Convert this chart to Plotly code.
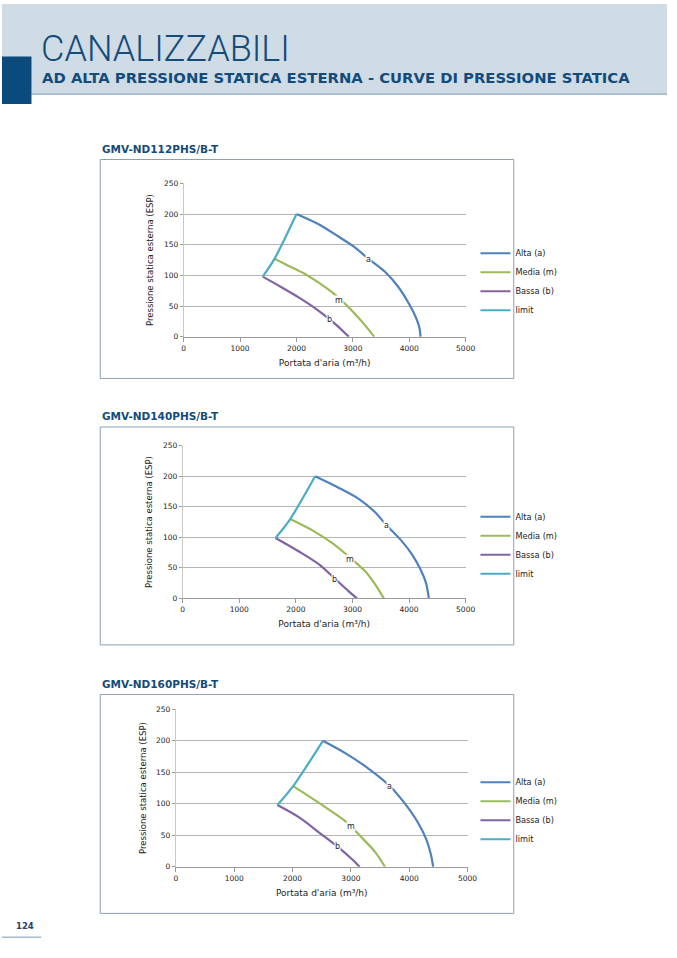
import plotly.graph_objects as go

W, H = 677, 958

# GMV-ND112PHS/B-T
alta1_x = [2000, 2400, 2750, 3000, 3280, 3570, 3800, 4000, 4120, 4180, 4200]
alta1_y = [200, 183, 163, 148, 127, 106, 82, 53, 31, 15, 0]
media1_x = [1610, 1830, 2120, 2400, 2640, 2870, 3100, 3250, 3380]
media1_y = [127, 117, 104, 88, 72, 53, 31, 15, 0]
bassa1_x = [1400, 1710, 2060, 2400, 2700, 2930]
bassa1_y = [98, 82, 63, 42, 20, 0]
limit1_x = [1400, 1610, 2000]
limit1_y = [98, 127, 200]
lab1_x = [3280, 2760, 2580]
lab1_y = [126, 59, 29]

# GMV-ND140PHS/B-T
alta2_x = [2340, 2760, 3110, 3400, 3600, 3860, 4060, 4210, 4300, 4350]
alta2_y = [200, 181, 163, 141, 120, 95, 71, 46, 25, 0]
media2_x = [1900, 2300, 2650, 2940, 3230, 3430, 3555]
media2_y = [130, 111, 90, 68, 44, 19, 0]
bassa2_x = [1640, 2070, 2420, 2680, 2940, 3080]
bassa2_y = [99, 76, 55, 33, 11, 0]
limit2_x = [1640, 1900, 2340]
limit2_y = [99, 130, 200]
lab2_x = [3600, 2965, 2676]
lab2_y = [120, 64, 31]

# GMV-ND160PHS/B-T
alta3_x = [2520, 2910, 3300, 3670, 3920, 4150, 4290, 4370, 4410]
alta3_y = [200, 180, 156, 128, 101, 70, 44, 20, 0]
media3_x = [2010, 2460, 2910, 3190, 3420, 3585]
media3_y = [128, 101, 72, 46, 23, 0]
bassa3_x = [1740, 2120, 2460, 2770, 3020, 3150]
bassa3_y = [98, 78, 54, 32, 12, 0]
limit3_x = [1740, 2010, 2520]
limit3_y = [98, 128, 200]
lab3_x = [3668, 2994, 2770]
lab3_y = [128, 64, 32]

models = ["GMV-ND112PHS/B-T", "GMV-ND140PHS/B-T", "GMV-ND160PHS/B-T"]
series_names = ["Alta (a)", "Media (m)", "Bassa (b)", "limit"]
label_texts = ["a", "m", "b"]
x_ticks = [0, 1000, 2000, 3000, 4000, 5000]
y_ticks = [0, 50, 100, 150, 200, 250]

colors = ["#4f81bd", "#9bbb59", "#8064a2", "#4bacc6"]
FONT = "DejaVu Sans"
NAVY = "#134b7a"
HEADER_BG = "#cfdce6"

charts = [
    dict(series=[(alta1_x, alta1_y), (media1_x, media1_y), (bassa1_x, bassa1_y), (limit1_x, limit1_y)],
         labels=(lab1_x, lab1_y), px=(185, 472), py=(181, 336), box=(100, 157, 521, 378), leg=246),
    dict(series=[(alta2_x, alta2_y), (media2_x, media2_y), (bassa2_x, bassa2_y), (limit2_x, limit2_y)],
         labels=(lab2_x, lab2_y), px=(184, 472), py=(446, 600), box=(100, 427, 521, 647), leg=512),
    dict(series=[(alta3_x, alta3_y), (media3_x, media3_y), (bassa3_x, bassa3_y), (limit3_x, limit3_y)],
         labels=(lab3_x, lab3_y), px=(177, 474), py=(712, 871), box=(100, 697, 521, 918), leg=780),
]


def fx(p):
    return p / W


def fy(p):
    return 1 - p / H


fig = go.Figure()
layout = {}
shapes = []
annotations = []

# header
shapes.append(dict(type="rect", xref="paper", yref="paper", x0=0, x1=1, y0=fy(91), y1=1,
                   fillcolor=HEADER_BG, line_width=0, layer="below"))
shapes.append(dict(type="line", xref="paper", yref="paper", x0=fx(30), x1=1, y0=fy(91), y1=fy(91),
                   line=dict(color="#7b98b0", width=1)))
shapes.append(dict(type="rect", xref="paper", yref="paper", x0=0, x1=fx(30), y0=fy(101), y1=fy(53),
                   fillcolor="#0b4a7d", line_width=0))
annotations.append(dict(text="CANALIZZABILI", xref="paper", yref="paper", x=fx(38), y=fy(45),
                        xanchor="left", yanchor="middle", showarrow=False,
                        font=dict(family="Roboto", size=36, color=NAVY, weight=300)))
annotations.append(dict(text="AD ALTA PRESSIONE STATICA ESTERNA - CURVE DI PRESSIONE STATICA",
                        xref="paper", yref="paper", x=fx(39), y=fy(74),
                        xanchor="left", yanchor="middle", showarrow=False,
                        font=dict(family=FONT, size=14.8, color=NAVY, weight="bold")))

# page number
annotations.append(dict(text="124", xref="paper", yref="paper", x=fx(23), y=fy(931),
                        xanchor="center", yanchor="middle", showarrow=False,
                        font=dict(family=FONT, size=8.5, color="#1f4466", weight="bold")))
shapes.append(dict(type="line", xref="paper", yref="paper", x0=0, x1=fx(40), y0=fy(942), y1=fy(942),
                   line=dict(color="#7b98b0", width=1)))

for i, ch in enumerate(charts):
    n = "" if i == 0 else str(i + 1)
    xa, ya, lg = "x" + n, "y" + n, "legend" + n
    for (sx, sy), name, col in zip(ch["series"], series_names, colors):
        fig.add_trace(go.Scatter(x=sx, y=sy, mode="lines", name=name, xaxis=xa, yaxis=ya,
                                 legend=lg,
                                 line=dict(color=col, width=2.2, shape="spline", smoothing=0.8)))
    lx, ly = ch["labels"]
    for tx, tyv, t in zip(lx, ly, label_texts):
        annotations.append(dict(text=t, x=tx, y=tyv, xref=xa, yref=ya, showarrow=False,
                                bgcolor="white", borderpad=0,
                                font=dict(family=FONT, size=8, color="#222")))
    layout["xaxis" + n] = dict(
        domain=[fx(ch["px"][0]), fx(ch["px"][1])], anchor=ya, range=[0, 5000],
        tickvals=x_ticks, showgrid=False, zeroline=False, showline=True,
        linecolor="#9a9a9a", linewidth=1, ticks="outside", ticklen=4, tickcolor="#9a9a9a",
        tickfont=dict(family=FONT, size=7.5, color="#222"),
        title=dict(text="Portata d'aria (m³/h)", standoff=7,
                   font=dict(family=FONT, size=9, color="#222")))
    layout["yaxis" + n] = dict(
        domain=[fy(ch["py"][1]), fy(ch["py"][0])], anchor=xa, range=[0, 250],
        tickvals=y_ticks, showgrid=True, gridcolor="#b4b4b4", gridwidth=1, zeroline=False,
        showline=True, linecolor="#c8c8c8", linewidth=1, ticks="outside", ticklen=3,
        tickcolor="#9a9a9a", tickfont=dict(family=FONT, size=7.5, color="#222"),
        title=dict(text="Pressione statica esterna (ESP)", standoff=8,
                   font=dict(family=FONT, size=8.5, color="#222")))
    layout[lg] = dict(x=fx(482), y=fy(ch["leg"] - 9), xanchor="left", yanchor="top",
                      bgcolor="rgba(0,0,0,0)", font=dict(family=FONT, size=8.2, color="#222"),
                      itemclick=False, tracegroupgap=0)
    bx0, by0, bx1, by1 = ch["box"]
    shapes.append(dict(type="rect", xref="paper", yref="paper", x0=fx(bx0), x1=fx(bx1),
                       y0=fy(by1), y1=fy(by0), line=dict(color="#8aa1b4", width=1),
                       fillcolor="rgba(0,0,0,0)"))
    annotations.append(dict(text=models[i], xref="paper", yref="paper",
                            x=fx(100), y=fy(by0 - 11), xanchor="left", yanchor="middle",
                            showarrow=False,
                            font=dict(family=FONT, size=10.5, color=NAVY, weight="bold")))

fig.update_layout(autosize=True, margin=dict(l=0, r=0, t=0, b=0),
                  paper_bgcolor="white", plot_bgcolor="white",
                  shapes=shapes, annotations=annotations, **layout)

# figure fills the window; drop the default body margin so the page starts at 0,0
fig.write_html("out.html", config={"displayModeBar": False, "responsive": True},
               default_width="100vw", default_height="100vh",
               post_script="document.body.style.margin='0px';"
                           "document.documentElement.style.overflow='hidden';")
